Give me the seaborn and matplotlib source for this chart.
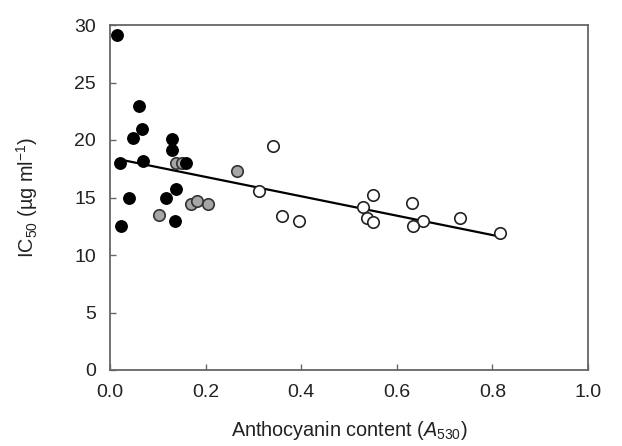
import matplotlib
matplotlib.use("Agg")
import matplotlib.pyplot as plt
import seaborn as sns
import numpy as np
import pandas as pd

# Data
black_x = [0.015, 0.021, 0.024, 0.040, 0.049, 0.060, 0.066, 0.070, 0.117, 0.129, 0.129, 0.138, 0.137, 0.158]
black_y = [29.1, 18.0, 12.5, 15.0, 20.2, 23.0, 21.0, 18.2, 15.0, 20.1, 19.1, 15.7, 13.0, 18.0]
gray_x = [0.103, 0.138, 0.150, 0.169, 0.183, 0.205, 0.266]
gray_y = [13.5, 18.0, 18.0, 14.4, 14.7, 14.4, 17.3]
open_x = [0.340, 0.312, 0.359, 0.396, 0.529, 0.551, 0.537, 0.551, 0.632, 0.655, 0.633, 0.732, 0.816]
open_y = [19.5, 15.6, 13.4, 13.0, 14.2, 15.2, 13.2, 12.9, 14.5, 13.0, 12.5, 13.2, 11.9]
fit_x = [0.021, 0.816]
fit_y = [18.3, 11.6]

x_ticks = [0.0, 0.2, 0.4, 0.6, 0.8, 1.0]
x_tick_labels = ["0.0", "0.2", "0.4", "0.6", "0.8", "1.0"]
y_ticks = [0, 5, 10, 15, 20, 25, 30]

sns.set_theme(style="ticks")
plt.rcParams["font.family"] = ["Liberation Sans", "DejaVu Sans"]
plt.rcParams["mathtext.fontset"] = "custom"
plt.rcParams["mathtext.rm"] = "Liberation Sans"
plt.rcParams["mathtext.it"] = "Liberation Sans:italic"

fig = plt.figure(figsize=(6.22, 4.46), dpi=100)
ax = fig.add_axes([110/622, 1-370/446, 478/622, 345/446])

df_b = pd.DataFrame({"x": black_x, "y": black_y})
df_g = pd.DataFrame({"x": gray_x, "y": gray_y})
df_o = pd.DataFrame({"x": open_x, "y": open_y})
df_f = pd.DataFrame({"x": fit_x, "y": fit_y})

ms = 68
sns.lineplot(data=df_f, x="x", y="y", ax=ax, color="black", linewidth=1.6, zorder=2)
sns.scatterplot(data=df_o, x="x", y="y", ax=ax, s=ms, color="white", edgecolor="#222222", linewidth=1.2, zorder=3)
sns.scatterplot(data=df_g, x="x", y="y", ax=ax, s=ms, color="#a6a6a6", edgecolor="#333333", linewidth=1.2, zorder=4)
sns.scatterplot(data=df_b, x="x", y="y", ax=ax, s=ms, color="black", edgecolor="black", linewidth=1.0, zorder=5)

ax.set_xlim(0, 1.0)
ax.set_ylim(0, 30)
ax.set_xticks(x_ticks)
ax.set_xticklabels(x_tick_labels)
ax.set_yticks(y_ticks)
ax.tick_params(direction="in", length=4, width=1, color="#666666", labelsize=14, labelcolor="#222222", pad=10)
for s in ax.spines.values():
    s.set_color("#666666")
    s.set_linewidth(1.3)
    s.set_visible(True)

ax.set_xlabel("Anthocyanin content ($A_{530}$)", fontsize=14.3, color="#222222", labelpad=13)
ax.set_ylabel("IC$_{50}$ (µg ml$^{-1}$)", fontsize=14.3, color="#222222", labelpad=25)

fig.savefig("out.png", dpi=100)
